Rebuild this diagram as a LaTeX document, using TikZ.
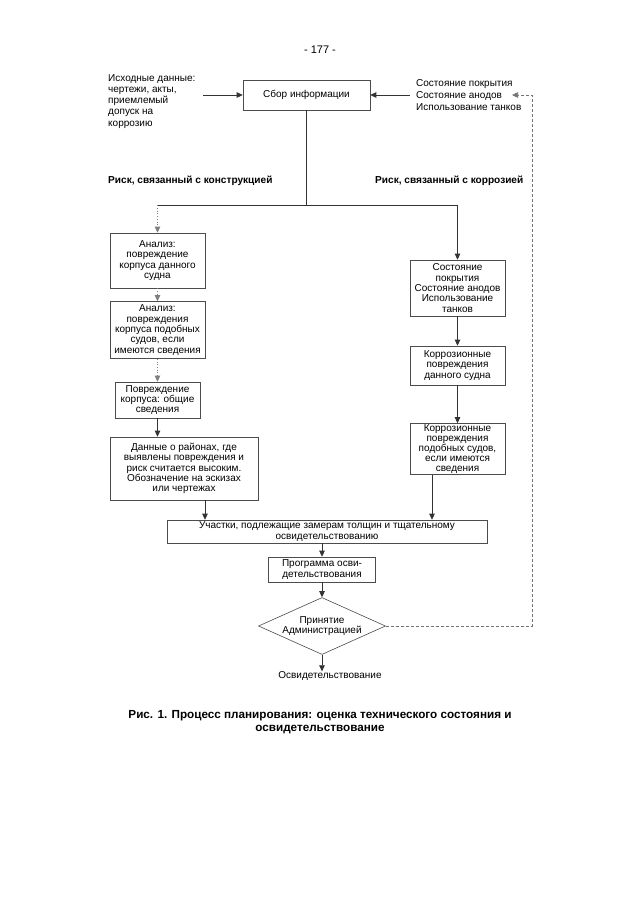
\documentclass[tikz,border=0pt]{standalone}
\usepackage{fontspec}
\setmainfont{Liberation Sans}
\usetikzlibrary{arrows.meta,shapes.geometric,calc}
\tikzset{
  every node/.style={font=\fontsize{10}{10.4}\selectfont, inner sep=0pt},
  boxnode/.style={draw=black!70, line width=0.6pt, align=center},
  conn/.style={draw=black!80, line width=0.7pt},
  arr/.style={conn, -{Triangle[length=6pt,width=5.5pt]}},
  dotarr/.style={arr, draw=black!50, dotted},
  dasharr/.style={arr, draw=black!55, dashed, dash pattern=on 3pt off 2pt},
  risk/.style={font=\fontsize{10.1}{11}\bfseries\selectfont}
}
\begin{document}
\begin{tikzpicture}[x=1pt,y=-1pt]
\fill[white] (0,0) rectangle (640,905);
\useasboundingbox (0,0) rectangle (640,905);

\node (page) at (320,50) {\fontsize{11}{13}\selectfont - 177 -};

\node[boxnode, minimum width=127, minimum height=30] (sbor) at (306.5,95) {Сбор информации};
\node[anchor=north west, align=left, font=\fontsize{10}{11.3}\selectfont] (src) at (108,74) {Исходные данные:\\чертежи, акты,\\приемлемый\\допуск на\\коррозию};
\coordinate (srcend) at (203,95);
\draw[arr] (srcend) -- (sbor.west);
\node[anchor=west, align=left, font=\fontsize{10}{11.6}\selectfont] (state) at (416,95) {Состояние покрытия\\Состояние анодов\\Использование танков};
\coordinate (stateend) at (410,95);
\draw[arr] (stateend) -- (sbor.east);

\node[risk, anchor=west] (riskc) at (108,181) {Риск, связанный с конструкцией};
\node[risk, anchor=west] (riskk) at (375,181) {Риск, связанный с коррозией};

% left column
\node[boxnode, minimum width=95, minimum height=55] (b1) at (157.5,260.5) {Анализ:\\повреждение\\корпуса данного\\судна};
\node[boxnode, minimum width=95, minimum height=57] (b2) at (157.5,330) {Анализ:\\повреждения\\корпуса подобных\\судов, если\\имеются сведения};
\node[boxnode, minimum width=85, minimum height=36] (b3) at (157.5,400) {Повреждение\\корпуса: общие\\сведения};
\node[boxnode, minimum width=148, minimum height=63] (b4) at (184,468.5) {Данные о районах, где\\выявлены повреждения и\\риск считается высоким.\\Обозначение на эскизах\\или чертежах};

% right column
\node[boxnode, minimum width=95, minimum height=56] (r1) at (457.5,288) {Состояние\\покрытия\\Состояние анодов\\Использование\\танков};
\node[boxnode, minimum width=95, minimum height=39] (r2) at (457.5,365.5) {Коррозионные\\повреждения\\данного судна};
\node[boxnode, minimum width=95, minimum height=51, font=\fontsize{10}{9.9}\selectfont] (r3) at (457.5,449) {Коррозионные\\повреждения\\подобных судов,\\если имеются\\сведения};

\coordinate (split) at ($(sbor.south)+(0,95)$);
\coordinate (lcorner) at (split -| b1.north);
\coordinate (rcorner) at (split -| r1.north);
\draw[conn] (sbor.south) -- (split);
\draw[conn] (lcorner) -- (rcorner);

\draw[dotarr] (lcorner) -- (b1.north);
\draw[dotarr] (b1.south) -- (b2.north);
\draw[dotarr] (b2.south) -- (b3.north);
\draw[arr] (b3.south) -- (b3.south |- b4.north);

\draw[arr] (rcorner) -- (r1.north);
\draw[arr] (r1.south) -- (r2.north);
\draw[arr] (r2.south) -- (r3.north);

% bottom
\node[boxnode, minimum width=320, minimum height=23] (wide) at (327,531.5) {Участки, подлежащие замерам толщин и тщательному\\освидетельствованию};
\draw[arr] (b4.south -| 205,0) -- (wide.north -| 205,0);
\draw[arr] (r3.south -| 432,0) -- (wide.north -| 432,0);

\node[boxnode, minimum width=107, minimum height=25] (prog) at (322,569.5) {Программа осви-\\детельствования};
\draw[arr] (wide.south -| prog.north) -- (prog.north);

\node[boxnode, shape=diamond, aspect=2.2, minimum width=127, minimum height=57] (adm) at (322,626) {Принятие\\Администрацией};
\draw[arr] (prog.south) -- (adm.north);

\node (final) at (330,676) {Освидетельствование};
\draw[arr] (adm.south) -- (adm.south |- final.north);

% feedback
\coordinate (fbcorner) at (532,626);
\coordinate (fbtop) at (532,95);
\coordinate (fbend) at (512,95);
\draw[dasharr] (adm.east) -- (fbcorner) -- (fbtop) -- (fbend);

\node[align=center, font=\fontsize{11.7}{13.5}\bfseries\selectfont] (caption) at (320,722) {Рис. 1. Процесс планирования: оценка технического состояния и\\освидетельствование};
\end{tikzpicture}
\end{document}
